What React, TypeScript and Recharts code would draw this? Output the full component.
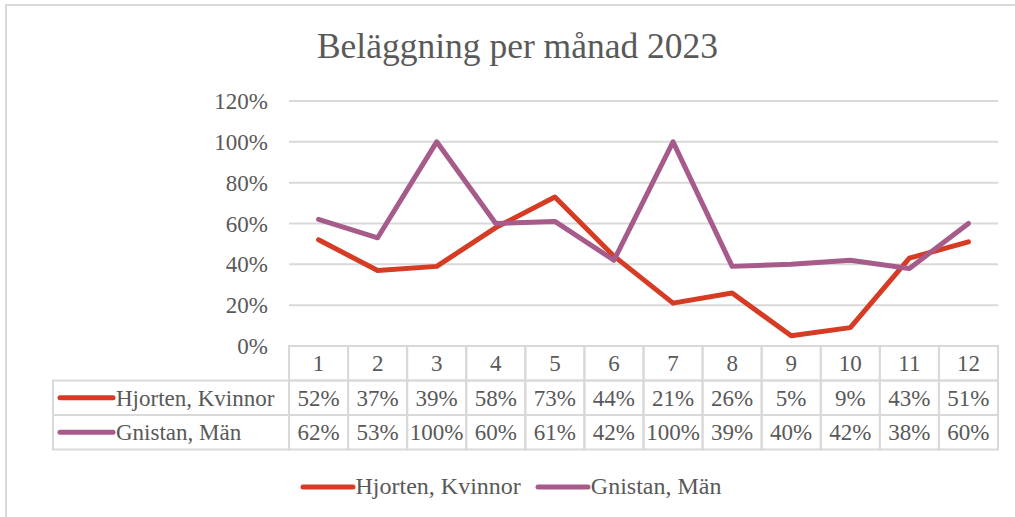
import React from 'react'
import { LineChart, Line, XAxis, YAxis, CartesianGrid, Legend } from 'recharts'

// Månader och beläggning (procent) avläst från tabellen under diagrammet
const MONTHS = ['1', '2', '3', '4', '5', '6', '7', '8', '9', '10', '11', '12']
const HJORTEN = [52, 37, 39, 58, 73, 44, 21, 26, 5, 9, 43, 51]
const GNISTAN = [62, 53, 100, 60, 61, 42, 100, 39, 40, 42, 38, 60]
const Y_TICKS = [0, 20, 40, 60, 80, 100, 120]

const SERIES = [
  { key: 'hjorten', name: 'Hjorten, Kvinnor', color: '#d63b24', values: HJORTEN },
  { key: 'gnistan', name: 'Gnistan, Män', color: '#a65b8b', values: GNISTAN },
]

const data = MONTHS.map((m, i) => ({ month: m, hjorten: HJORTEN[i], gnistan: GNISTAN[i] }))

const W = 1015
const H = 517
const FONT = '"Liberation Serif", "Times New Roman", serif'
const FS = 23
const TEXT = '#595959'
const GRID = '#d9d9d9'

// plot box
const PLOT_LEFT = 289
const PLOT_RIGHT = 998
const PLOT_TOP = 101
const PLOT_BOTTOM = 346
const ROW_H = 34.5
const LABEL_LEFT = 53
const CELL_W = (PLOT_RIGHT - PLOT_LEFT) / MONTHS.length

const pct = (v: number) => `${v}%`

// x-axis tick draws one column of the data table (header + one cell per series)
function TableColumn(props: any) {
  const { x, index, payload } = props
  const left = x - CELL_W / 2
  const rows = [payload.value, ...SERIES.map(s => pct(s.values[index]))]
  return (
    <g>
      {index === 0 && (
        <g>
          {SERIES.map((s, r) => {
            const top = PLOT_BOTTOM + ROW_H * (r + 1)
            return (
              <g key={s.key}>
                <rect x={LABEL_LEFT} y={top} width={PLOT_LEFT - LABEL_LEFT} height={ROW_H} fill="none" stroke={GRID} strokeWidth={2} />
                <line x1={LABEL_LEFT + 7} x2={LABEL_LEFT + 60} y1={top + ROW_H / 2} y2={top + ROW_H / 2} stroke={s.color} strokeWidth={5} strokeLinecap="round" />
                <text x={LABEL_LEFT + 63} y={top + ROW_H / 2 + 8} fill={TEXT} fontSize={FS} fontFamily={FONT}>{s.name}</text>
              </g>
            )
          })}
        </g>
      )}
      {rows.map((t, r) => {
        const top = PLOT_BOTTOM + ROW_H * r
        return (
          <g key={r}>
            <rect x={left} y={top} width={CELL_W} height={ROW_H} fill="none" stroke={GRID} strokeWidth={2} />
            <text x={x} y={top + ROW_H / 2 + 8} textAnchor="middle" fill={TEXT} fontSize={FS} fontFamily={FONT}>{t}</text>
          </g>
        )
      })}
    </g>
  )
}

function LegendContent() {
  return (
    <div style={{ display: 'flex', justifyContent: 'center', alignItems: 'center', fontFamily: FONT, fontSize: 24, color: TEXT, paddingLeft: 6 }}>
      {SERIES.map((s, i) => (
        <div key={s.key} style={{ display: 'flex', alignItems: 'center', marginLeft: i === 0 ? 0 : 14 }}>
          <svg width={56} height={10}>
            <line x1={3} x2={53} y1={5} y2={5} stroke={s.color} strokeWidth={5} strokeLinecap="round" />
          </svg>
          <span>{s.name}</span>
        </div>
      ))}
    </div>
  )
}

export default function App() {
  return (
    <div style={{ position: 'absolute', left: 0, top: 0, width: W, height: H, overflow: 'hidden', background: '#fff' }}>
      <div style={{ position: 'absolute', left: 5, top: 4, width: W + 100, height: H + 100, border: `2px solid ${GRID}` }} />
      <div style={{ position: 'absolute', left: 10, top: 29, width: W, textAlign: 'center', fontFamily: FONT, fontSize: 35.5, color: TEXT, lineHeight: 1 }}>
        Beläggning per månad 2023
      </div>
      <div style={{ position: 'absolute', left: 0, top: 0 }}>
        <LineChart
          width={W}
          height={H}
          data={data}
          margin={{ top: PLOT_TOP, right: W - PLOT_RIGHT, bottom: H - PLOT_BOTTOM - ROW_H * 3, left: PLOT_LEFT - 80 }}
        >
          <CartesianGrid vertical={false} stroke={GRID} strokeWidth={2} />
          <XAxis
            dataKey="month"
            axisLine={false}
            tickLine={false}
            height={ROW_H * 3}
            interval={0}
            padding={{ left: CELL_W / 2, right: CELL_W / 2 }}
            tick={<TableColumn />}
          />
          <YAxis
            width={80}
            domain={[0, 120]}
            ticks={Y_TICKS}
            tickFormatter={pct}
            axisLine={false}
            tickLine={false}
            tickMargin={15}
            tick={{ fill: TEXT, fontSize: FS, fontFamily: FONT }}
          />
          <Legend
            verticalAlign="middle"
            align="center"
            layout="horizontal"
            wrapperStyle={{ top: 473, left: 0, width: W }}
            content={<LegendContent />}
          />
          {SERIES.map(s => (
            <Line
              key={s.key}
              dataKey={s.key}
              name={s.name}
              stroke={s.color}
              strokeWidth={5}
              strokeLinejoin="round"
              strokeLinecap="round"
              dot={false}
              activeDot={false}
              isAnimationActive={false}
            />
          ))}
        </LineChart>
      </div>
    </div>
  )
}
